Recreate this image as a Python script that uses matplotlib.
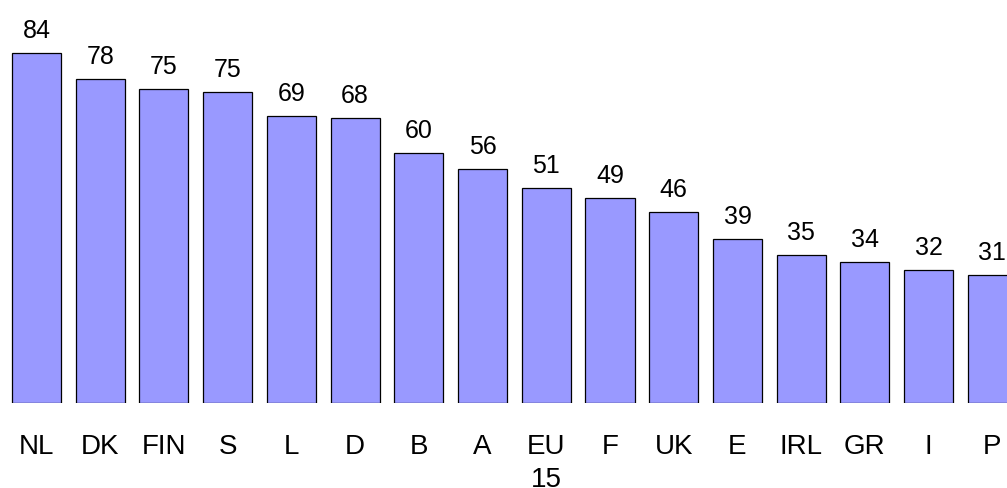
import matplotlib.pyplot as plt
import numpy as np

plt.rcParams['font.family'] = ['Liberation Sans', 'DejaVu Sans']

countries = ['NL', 'DK', 'FIN', 'S', 'L', 'D', 'B', 'A', 'EU\n15', 'F', 'UK', 'E', 'IRL', 'GR', 'I', 'P']
values = [84.0, 77.8, 75.4, 74.6, 68.9, 68.5, 60.1, 56.3, 51.6, 49.3, 46.0, 39.3, 35.6, 33.9, 32.0, 30.8]
labels = ['84', '78', '75', '75', '69', '68', '60', '56', '51', '49', '46', '39', '35', '34', '32', '31']

fig = plt.figure(figsize=(10.07, 4.89), dpi=100)
ax = fig.add_axes([0, 85 / 489, 1, 404 / 489])

x = np.arange(len(countries))
ax.bar(x, values, width=0.77, color='#9999ff', edgecolor='black', linewidth=0.9)

for xi, v, t in zip(x, values, labels):
    ax.annotate(t, (xi, v), xytext=(0, 11.5), textcoords='offset points',
                ha='center', va='baseline', fontsize=18)

ax.set_xlim(-0.573, 15.23)
ax.set_ylim(0, 97.05)
ax.set_xticks(x)
ax.set_xticklabels(countries, fontsize=20, linespacing=1.35)
ax.tick_params(axis='x', length=0, pad=21.5)
ax.set_yticks([])
for s in ax.spines.values():
    s.set_visible(False)

fig.savefig('out.png', dpi=100)
